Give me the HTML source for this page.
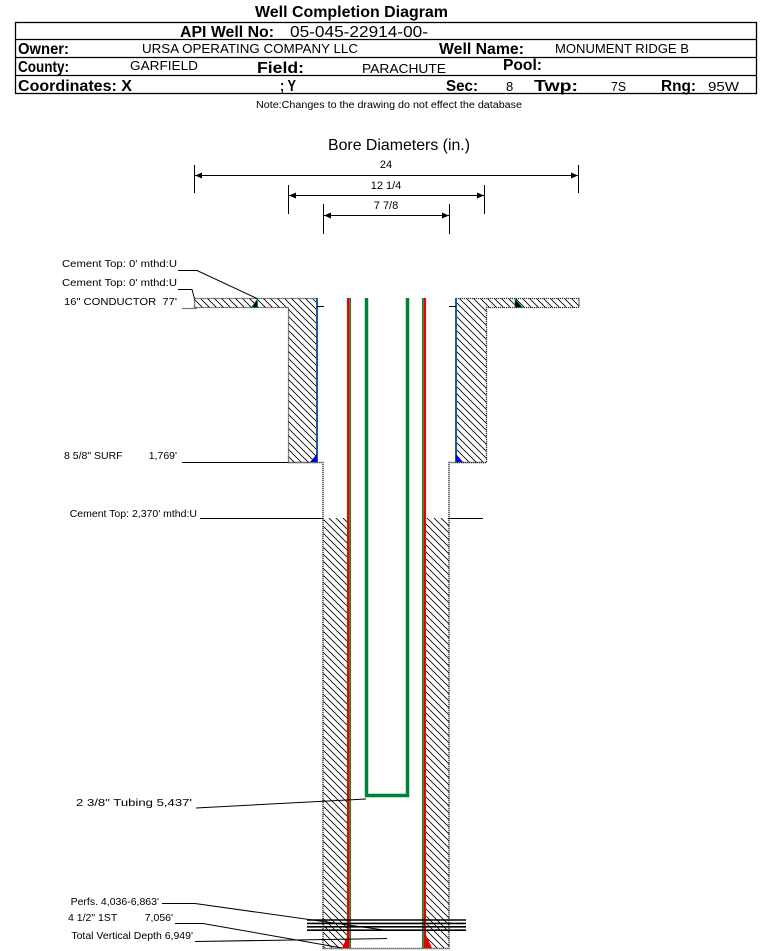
<!DOCTYPE html>
<html>
<head>
<meta charset="utf-8">
<style>
html,body{margin:0;padding:0;background:#fff;}
svg{display:block;}
text{font-family:"Liberation Sans",Arial,sans-serif;fill:#000;}
.b{font-weight:bold;}
</style>
</head>
<body>
<svg width="762" height="951" viewBox="0 0 762 951" xmlns="http://www.w3.org/2000/svg">
<defs>
<pattern id="h" patternUnits="userSpaceOnUse" width="7" height="7">
<path d="M0,0 L7,7 M-1,6 L1,8 M6,-1 L8,1" stroke="#000" stroke-width="0.8"/>
</pattern>
</defs>
<rect width="762" height="951" fill="#fff"/>

<!-- Title -->
<text x="255" y="17" class="b" font-size="16" textLength="193" lengthAdjust="spacingAndGlyphs">Well Completion Diagram</text>

<!-- Header table -->
<rect x="15.5" y="22.5" width="741" height="71" fill="none" stroke="#000" stroke-width="1.3"/>
<line x1="15.5" y1="39.5" x2="756.5" y2="39.5" stroke="#000" stroke-width="1.3"/>
<line x1="15.5" y1="57.5" x2="756.5" y2="57.5" stroke="#000" stroke-width="1.3"/>
<line x1="15.5" y1="75.5" x2="756.5" y2="75.5" stroke="#000" stroke-width="1.3"/>

<text x="180" y="37" class="b" font-size="16" textLength="94" lengthAdjust="spacingAndGlyphs">API Well No:</text>
<text x="290" y="37" font-size="16" textLength="138" lengthAdjust="spacingAndGlyphs">05-045-22914-00-</text>

<text x="18" y="54" class="b" font-size="15.5" textLength="51" lengthAdjust="spacingAndGlyphs">Owner:</text>
<text x="142" y="53" font-size="13" textLength="216" lengthAdjust="spacingAndGlyphs">URSA OPERATING COMPANY LLC</text>
<text x="439" y="54" class="b" font-size="15.5" textLength="85" lengthAdjust="spacingAndGlyphs">Well Name:</text>
<text x="555" y="53" font-size="13" textLength="134" lengthAdjust="spacingAndGlyphs">MONUMENT RIDGE B</text>

<text x="18" y="72" class="b" font-size="15.5" textLength="51" lengthAdjust="spacingAndGlyphs">County:</text>
<text x="130" y="70" font-size="13" textLength="68" lengthAdjust="spacingAndGlyphs">GARFIELD</text>
<text x="257" y="73" class="b" font-size="15.5" textLength="47" lengthAdjust="spacingAndGlyphs">Field:</text>
<text x="362" y="73" font-size="13" textLength="84" lengthAdjust="spacingAndGlyphs">PARACHUTE</text>
<text x="503" y="70" class="b" font-size="15.5" textLength="39" lengthAdjust="spacingAndGlyphs">Pool:</text>

<text x="18" y="91" class="b" font-size="15.5" textLength="114" lengthAdjust="spacingAndGlyphs">Coordinates: X</text>
<text x="280" y="91" class="b" font-size="15.5" textLength="16" lengthAdjust="spacingAndGlyphs">; Y</text>
<text x="446" y="91" class="b" font-size="15.5" textLength="32" lengthAdjust="spacingAndGlyphs">Sec:</text>
<text x="506" y="91" font-size="13">8</text>
<text x="534" y="91" class="b" font-size="15.5" textLength="44" lengthAdjust="spacingAndGlyphs">Twp:</text>
<text x="611" y="91" font-size="13" textLength="15" lengthAdjust="spacingAndGlyphs">7S</text>
<text x="661" y="91" class="b" font-size="15.5" textLength="35" lengthAdjust="spacingAndGlyphs">Rng:</text>
<text x="708" y="91" font-size="13" textLength="31" lengthAdjust="spacingAndGlyphs">95W</text>

<text x="256" y="108" font-size="10" textLength="266" lengthAdjust="spacingAndGlyphs">Note:Changes to the drawing do not effect the database</text>

<!-- Bore diameters -->
<text x="328" y="150" font-size="16" textLength="142" lengthAdjust="spacingAndGlyphs">Bore Diameters (in.)</text>

<g stroke="#000" stroke-width="1">
<line x1="194.5" y1="165" x2="194.5" y2="193"/>
<line x1="578.5" y1="165" x2="578.5" y2="193"/>
<line x1="195" y1="175.5" x2="578" y2="175.5"/>
<line x1="288.5" y1="185" x2="288.5" y2="214"/>
<line x1="484.5" y1="185" x2="484.5" y2="214"/>
<line x1="289" y1="195.5" x2="484" y2="195.5"/>
<line x1="323.5" y1="204" x2="323.5" y2="234"/>
<line x1="449.5" y1="204" x2="449.5" y2="234"/>
<line x1="324" y1="215.5" x2="449" y2="215.5"/>
</g>
<g fill="#000">
<polygon points="195,175.5 202,172.5 202,178.5"/>
<polygon points="578,175.5 571,172.5 571,178.5"/>
<polygon points="289,195.5 296,192.5 296,198.5"/>
<polygon points="484,195.5 477,192.5 477,198.5"/>
<polygon points="324,215.5 331,212.5 331,218.5"/>
<polygon points="449,215.5 442,212.5 442,218.5"/>
</g>
<text x="386" y="168" font-size="11" text-anchor="middle">24</text>
<text x="386" y="189" font-size="11" text-anchor="middle">12 1/4</text>
<text x="386" y="209" font-size="11" text-anchor="middle">7 7/8</text>

<!-- Conductor + surface casing (hatched) -->
<polygon points="194.5,298.5 317,298.5 317,462.5 288.5,462.5 288.5,307.5 194.5,307.5" fill="url(#h)" stroke="#333" stroke-width="1.3" stroke-dasharray="1.2 0.8"/>
<polygon points="456,298.5 579,298.5 579,307.5 486.5,307.5 486.5,462.5 456,462.5" fill="url(#h)" stroke="#333" stroke-width="1.3" stroke-dasharray="1.2 0.8"/>

<!-- surface casing lines (blue) -->
<line x1="317" y1="298" x2="317" y2="462" stroke="#1d5a96" stroke-width="2"/>
<line x1="456" y1="298" x2="456" y2="462" stroke="#1d5a96" stroke-width="2"/>
<polygon points="310,462 317,454 317,462" fill="#0000ee"/>
<polygon points="456,454 463,462 456,462" fill="#0000ee"/>

<!-- conductor cement triangles -->
<polygon points="251.5,307.5 257.5,299 257.5,307.5" fill="#000" stroke="#0a8a3a" stroke-width="0.8"/>
<polygon points="515,299 522.5,307.5 515,307.5" fill="#000" stroke="#0a8a3a" stroke-width="0.8"/>

<!-- small ticks at 306 -->
<line x1="317" y1="306.5" x2="324" y2="306.5" stroke="#000" stroke-width="1"/>
<line x1="449" y1="306.5" x2="456" y2="306.5" stroke="#000" stroke-width="1"/>

<!-- hole outline below surface shoe -->
<g stroke="#333" stroke-width="1.4" stroke-dasharray="1.2 0.8" fill="none">
<polyline points="288.5,462.5 323,462.5 323,948.5 449,948.5 449,462.5 486.5,462.5"/>
</g>

<!-- production cement hatch -->
<rect x="323.5" y="518" width="24" height="430" fill="url(#h)"/>
<rect x="425.5" y="518" width="23.5" height="430" fill="url(#h)"/>

<!-- cement top line -->
<line x1="200" y1="518.5" x2="323" y2="518.5" stroke="#000" stroke-width="1"/>
<line x1="449" y1="518.5" x2="483" y2="518.5" stroke="#000" stroke-width="1"/>

<!-- production casing -->
<line x1="348.8" y1="298" x2="348.8" y2="948" stroke="#5cb85c" stroke-width="4"/>
<line x1="348.3" y1="298" x2="348.3" y2="948" stroke="#e00000" stroke-width="2.4"/>
<line x1="350.6" y1="298" x2="350.6" y2="948" stroke="#0a7a3a" stroke-width="0.9"/>
<line x1="424.2" y1="298" x2="424.2" y2="948" stroke="#5cb85c" stroke-width="4"/>
<line x1="424.7" y1="298" x2="424.7" y2="948" stroke="#e00000" stroke-width="2.4"/>
<line x1="422.4" y1="298" x2="422.4" y2="948" stroke="#0a7a3a" stroke-width="0.9"/>
<polygon points="342,948 348,935 348,948" fill="#e00000"/>
<polygon points="426,935 432,948 426,948" fill="#e00000"/>

<!-- tubing -->
<polyline points="366.5,298 366.5,795.5 407.5,795.5 407.5,298" fill="none" stroke="#8fd08f" stroke-width="4.2"/>
<polyline points="366.5,298 366.5,795.5 407.5,795.5 407.5,298" fill="none" stroke="#008040" stroke-width="3"/>

<!-- perfs -->
<g stroke="#000" stroke-width="1.6">
<line x1="307" y1="920" x2="466" y2="920"/>
<line x1="307" y1="923.4" x2="466" y2="923.4"/>
<line x1="307" y1="926.8" x2="466" y2="926.8"/>
<line x1="307" y1="930.2" x2="466" y2="930.2"/>
</g>

<!-- leader lines -->
<g stroke="#000" stroke-width="1" fill="none">
<polyline points="178,270.5 197,270.5 257,298.5"/>
<polyline points="178,289.5 192,289.5 194.5,298.5"/>
<line x1="182" y1="462.5" x2="288" y2="462.5"/>
<line x1="196" y1="808" x2="366" y2="799"/>
<polyline points="162,903.5 195,903.5 387,930.5"/>
<polyline points="175,923.5 203,923.5 342,948"/>
<line x1="195" y1="941.5" x2="387" y2="938.5"/>
</g>
<line x1="182" y1="308.5" x2="197" y2="308.5" stroke="#777" stroke-width="1.2"/>

<!-- labels -->
<g font-size="10.5">
<text x="62" y="267" textLength="115" lengthAdjust="spacingAndGlyphs">Cement Top: 0' mthd:U</text>
<text x="62" y="286" textLength="115" lengthAdjust="spacingAndGlyphs">Cement Top: 0' mthd:U</text>
<text x="64" y="305" textLength="113" lengthAdjust="spacingAndGlyphs">16" CONDUCTOR&#160;&#160;77'</text>
<text x="64" y="459">8 5/8" SURF</text>
<text x="177" y="459" text-anchor="end">1,769'</text>
<text x="197" y="517" text-anchor="end">Cement Top: 2,370' mthd:U</text>
<text x="76" y="806" textLength="116" lengthAdjust="spacingAndGlyphs">2 3/8" Tubing 5,437'</text>
<text x="159" y="905" text-anchor="end">Perfs. 4,036-6,863'</text>
<text x="68" y="921">4 1/2" 1ST</text>
<text x="173" y="921" text-anchor="end">7,056'</text>
<text x="193" y="939" text-anchor="end">Total Vertical Depth 6,949'</text>
</g>
</svg>
</body>
</html>
